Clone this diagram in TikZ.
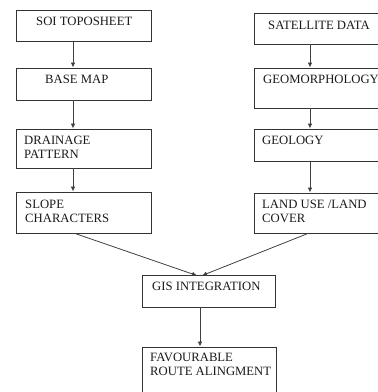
\documentclass[tikz,border=0pt]{standalone}
\usepackage{fontspec}
\setmainfont{Liberation Serif}
\usetikzlibrary{arrows.meta}
\begin{document}
\begin{tikzpicture}[x=1pt,y=-1pt,
  box/.style={draw=black!80, line width=0.9pt, rectangle, inner sep=0pt},
  lbl/.style={anchor=base west, inner sep=0pt, font=\fontsize{12.7}{14}\selectfont, text=black!90},
  arr/.style={draw=black!75, line width=0.8pt, -{Latex[length=5pt,width=4.5pt]}}]
\useasboundingbox (0,0) rectangle (378,392);
\clip (0,0) rectangle (378,392);
% left column
\node[box, minimum width=135, minimum height=31] (L1) at (83.5,25.5) {};
\node[box, minimum width=135, minimum height=32] (L2) at (83.5,84) {};
\node[box, minimum width=135, minimum height=39] (L3) at (83.5,148.5) {};
\node[box, minimum width=135, minimum height=41] (L4) at (83.5,212.5) {};
% right column
\node[box, minimum width=140, minimum height=31] (R1) at (324,28.5) {};
\node[box, minimum width=140, minimum height=40] (R2) at (324,88) {};
\node[box, minimum width=140, minimum height=32] (R3) at (324,145) {};
\node[box, minimum width=140, minimum height=40] (R4) at (324,213) {};
% bottom
\node[box, minimum width=133, minimum height=32] (G) at (208.5,291) {};
\node[box, minimum width=134, minimum height=54] (F) at (209,374) {};
% labels
\node[lbl] (tL1) at (36,25) {SOI TOPOSHEET};
\node[lbl] (tL2) at (45,83) {BASE MAP};
\node[lbl] (tL3a) at (24,144) {DRAINAGE};
\node[lbl] (tL3b) at (24,158) {PATTERN};
\node[lbl] (tL4a) at (25,208) {SLOPE};
\node[lbl] (tL4b) at (25,222) {CHARACTERS};
\node[lbl] (tR1) at (268,29) {SATELLITE DATA};
\node[lbl] (tR2) at (263,83) {GEOMORPHOLOGY};
\node[lbl] (tR3) at (262,144) {GEOLOGY};
\node[lbl] (tR4a) at (262,208) {LAND USE /LAND};
\node[lbl] (tR4b) at (262,222) {COVER};
\node[lbl] (tG) at (152,290) {GIS INTEGRATION};
\node[lbl] (tFa) at (150,361) {FAVOURABLE};
\node[lbl] (tFb) at (150,375) {ROUTE ALINGMENT};
% arrows
\draw[arr] ([xshift=-10.5]L1.south) -- ([xshift=-10.5]L2.north);
\draw[arr] ([xshift=-10.5]L2.south) -- ([xshift=-10.5]L3.north);
\draw[arr] ([xshift=-10.5]L3.south) -- ([xshift=-10.5]L4.north);
\draw[arr] ([xshift=-14]R1.south) -- ([xshift=-14]R2.north);
\draw[arr] ([xshift=-14]R2.south) -- ([xshift=-14]R3.north);
\draw[arr] ([xshift=-14]R3.south) -- ([xshift=-14]R4.north);
\draw[arr] ([xshift=-8.5]L4.south) -- ([xshift=-11.5,yshift=-1]G.north);
\draw[arr] ([xshift=-16]R4.south) -- ([xshift=-6.5,yshift=-1]G.north);
\draw[arr] ([xshift=-8.5]G.south) -- ([xshift=-9]F.north);
\end{tikzpicture}
\end{document}
